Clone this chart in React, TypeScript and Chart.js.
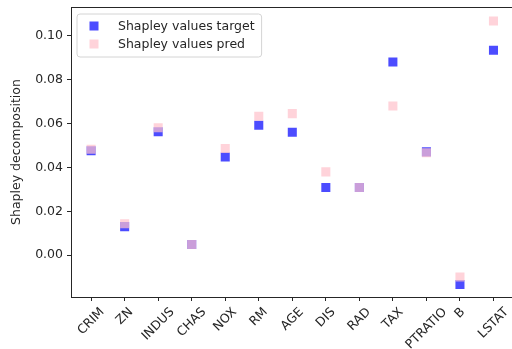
import React, { useEffect, useRef } from 'react';
import { Chart, registerables } from 'chart.js';

Chart.register(...registerables);

const features = ['CRIM', 'ZN', 'INDUS', 'CHAS', 'NOX', 'RM', 'AGE', 'DIS', 'RAD', 'TAX', 'PTRATIO', 'B', 'LSTAT'];
const shapleyTarget = [0.0475, 0.0130, 0.0562, 0.0049, 0.0447, 0.0591, 0.0559, 0.0308, 0.0308, 0.0879, 0.0470, -0.0133, 0.0932];
const shapleyPred = [0.0482, 0.0143, 0.0580, 0.0049, 0.0485, 0.0632, 0.0644, 0.0379, 0.0308, 0.0679, 0.0466, -0.0099, 0.1065];
const yTicks = [0.0, 0.02, 0.04, 0.06, 0.08, 0.10];
const seriesNames = ['Shapley values target', 'Shapley values pred'];
const yTitle = 'Shapley decomposition';

const FONT_FAMILY = '"DejaVu Sans", "Liberation Sans", sans-serif';
const FONT_SIZE = 12.5;
const TEXT_COLOR = '#262626';
const AXIS_COLOR = '#262626';
const TARGET_COLOR = 'rgba(0, 0, 255, 0.7)';
const PRED_COLOR = 'rgba(255, 192, 203, 0.7)';

const decorPlugin = {
  id: 'mplDecor',
  afterDraw(chart: any) {
    const ctx = chart.ctx as CanvasRenderingContext2D;
    const area = chart.chartArea;
    const xScale = chart.scales.x;
    const font = `${FONT_SIZE}px ${FONT_FAMILY}`;
    ctx.save();
    // frame
    ctx.strokeStyle = AXIS_COLOR;
    ctx.lineWidth = 1;
    ctx.beginPath();
    const l = Math.round(area.left) + 0.5;
    const t = Math.round(area.top) + 0.5;
    const r = Math.round(area.right) + 0.5;
    const b = Math.round(area.bottom) + 0.5;
    ctx.moveTo(l, b);
    ctx.lineTo(l, t);
    ctx.lineTo(r, t);
    ctx.lineTo(r, b);
    ctx.lineTo(l, b);
    ctx.stroke();

    // x tick labels, rotated 45deg, bbox centered under tick (matplotlib style)
    ctx.font = font;
    ctx.fillStyle = TEXT_COLOR;
    ctx.textAlign = 'center';
    ctx.textBaseline = 'middle';
    const s = Math.SQRT1_2;
    features.forEach((label, i) => {
      const m = ctx.measureText(label);
      const w = m.width;
      const h = FONT_SIZE * 1.16;
      const boxH = (w + h) * s;
      const cx = xScale.getPixelForValue(i);
      const top = area.bottom + 8;
      const cy = top + boxH / 2;
      ctx.save();
      ctx.translate(cx, cy);
      ctx.rotate(-Math.PI / 4);
      ctx.fillText(label, 0, 0);
      ctx.restore();
    });

    // y title
    ctx.save();
    ctx.translate(17, (area.top + area.bottom) / 2);
    ctx.rotate(-Math.PI / 2);
    ctx.textAlign = 'center';
    ctx.textBaseline = 'middle';
    ctx.fillText(yTitle, 0, 0);
    ctx.restore();

    // legend
    const lx = area.left + 6;
    const ly = area.top + 7;
    const textW = Math.max(...seriesNames.map((n) => ctx.measureText(n).width));
    const lw = 41 + textW + 7;
    const lh = 43;
    const rad = 3;
    ctx.beginPath();
    ctx.moveTo(lx + rad, ly);
    ctx.lineTo(lx + lw - rad, ly);
    ctx.arcTo(lx + lw, ly, lx + lw, ly + rad, rad);
    ctx.lineTo(lx + lw, ly + lh - rad);
    ctx.arcTo(lx + lw, ly + lh, lx + lw - rad, ly + lh, rad);
    ctx.lineTo(lx + rad, ly + lh);
    ctx.arcTo(lx, ly + lh, lx, ly + lh - rad, rad);
    ctx.lineTo(lx, ly + rad);
    ctx.arcTo(lx, ly, lx + rad, ly, rad);
    ctx.closePath();
    ctx.fillStyle = 'rgba(255,255,255,0.8)';
    ctx.fill();
    ctx.strokeStyle = '#d4d4d4';
    ctx.lineWidth = 1;
    ctx.stroke();
    const colors = [TARGET_COLOR, PRED_COLOR];
    seriesNames.forEach((name, i) => {
      const rowY = ly + 12 + i * 18;
      const side = 9;
      ctx.fillStyle = colors[i];
      ctx.fillRect(lx + 17 - side / 2, rowY - side / 2, side, side);
      ctx.fillStyle = TEXT_COLOR;
      ctx.textAlign = 'left';
      ctx.textBaseline = 'middle';
      ctx.fillText(name, lx + 41, rowY + 1);
    });
    ctx.restore();
  },
};

export default function App() {
  const canvasRef = useRef<HTMLCanvasElement | null>(null);

  useEffect(() => {
    document.body.style.margin = '0';
    const canvas = canvasRef.current;
    if (!canvas) return;
    const chart = new Chart(canvas, {
      type: 'scatter',
      data: {
        datasets: [
          {
            label: seriesNames[0],
            data: shapleyTarget.map((v, i) => ({ x: i, y: v })),
            backgroundColor: TARGET_COLOR,
            pointStyle: 'rect',
            pointRadius: 6.4,
            borderWidth: 0,
            order: 1,
          },
          {
            label: seriesNames[1],
            data: shapleyPred.map((v, i) => ({ x: i, y: v })),
            backgroundColor: PRED_COLOR,
            pointStyle: 'rect',
            pointRadius: 6.4,
            borderWidth: 0,
            order: 0,
          },
        ],
      },
      options: {
        responsive: false,
        animation: false,
        devicePixelRatio: 1,
        layout: { padding: { top: 7, right: 6, left: 0, bottom: 0 } },
        plugins: { legend: { display: false }, tooltip: { enabled: false } },
        scales: {
          x: {
            type: 'linear',
            min: -0.6,
            max: 12.6,
            afterBuildTicks: (scale: any) => {
              scale.ticks = features.map((_, i) => ({ value: i }));
            },
            afterFit: (scale: any) => {
              scale.height = 52;
              scale.paddingLeft = 0;
              scale.paddingRight = 0;
              scale.paddingTop = 0;
              scale.paddingBottom = 0;
            },
            ticks: { display: false },
            grid: { drawOnChartArea: false, drawTicks: true, tickLength: 4, color: AXIS_COLOR },
            border: { display: true, color: AXIS_COLOR },
          },
          y: {
            type: 'linear',
            min: -0.019,
            max: 0.1129,
            afterBuildTicks: (scale: any) => {
              scale.ticks = yTicks.map((v) => ({ value: v }));
            },
            afterFit: (scale: any) => {
              scale.width = 71;
              scale.paddingLeft = 0;
              scale.paddingRight = 0;
              scale.paddingTop = 0;
              scale.paddingBottom = 0;
            },
            ticks: {
              callback: (v: any) => Number(v).toFixed(2),
              color: TEXT_COLOR,
              font: { family: FONT_FAMILY, size: FONT_SIZE },
              padding: 4,
            },
            grid: { drawOnChartArea: false, drawTicks: true, tickLength: 4, color: AXIS_COLOR },
            border: { display: true, color: AXIS_COLOR },
          },
        },
      },
      plugins: [decorPlugin],
    });
    return () => chart.destroy();
  }, []);

  return (
    <div style={{ position: 'absolute', left: 0, top: 0, width: 512, height: 349, overflow: 'hidden', background: '#fff' }}>
      <canvas ref={canvasRef} width={520} height={349} style={{ display: 'block' }} />
    </div>
  );
}
